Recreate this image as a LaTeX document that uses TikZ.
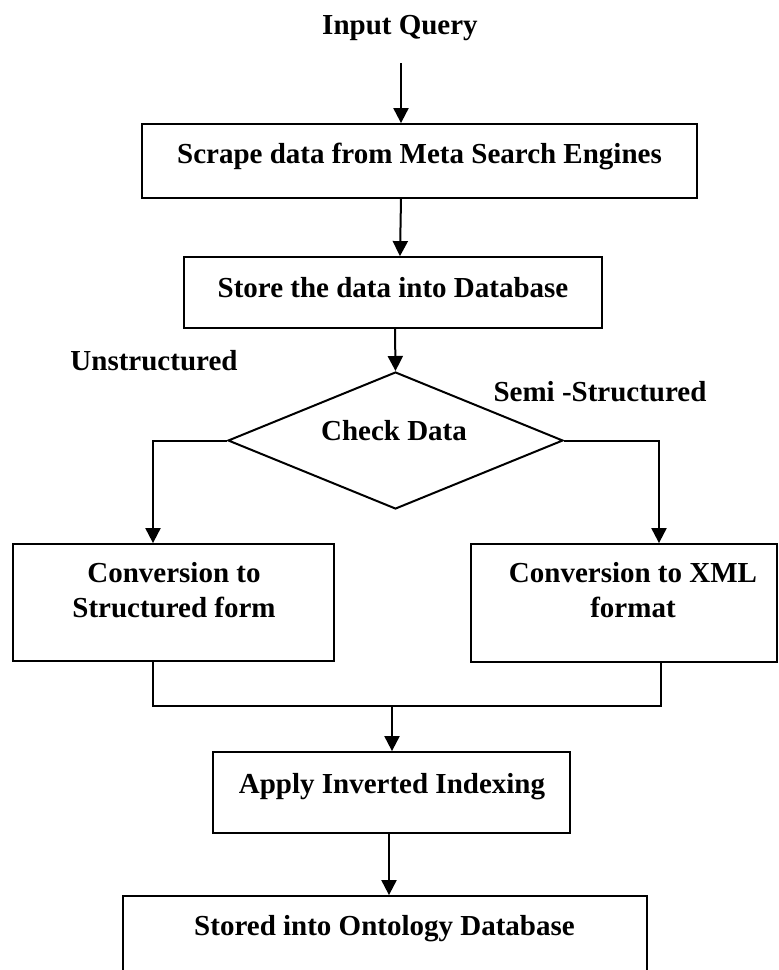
\documentclass[tikz,border=0pt]{standalone}
\usepackage{fontspec}
\setmainfont{Liberation Serif}
\usetikzlibrary{shapes.geometric,arrows.meta}
\begin{document}
\begin{tikzpicture}[x=1pt,y=-1pt,
  box/.style={draw, line width=1.8pt, inner sep=0pt},
  lbl/.style={font=\fontsize{29pt}{35pt}\selectfont\bfseries, inner sep=0pt, anchor=base},
  link/.style={line width=2pt},
  arr/.style={line width=2pt, -{Triangle[length=15pt,width=15pt]}}]
\useasboundingbox (0,0) rectangle (779,970);
\clip (0,0) rectangle (779,970);

% process steps
\node[lbl] (q) at (400,34) {Input Query};
\node[box, minimum width=555pt, minimum height=74pt] (b1) at (419.5,161) {};
\node[lbl] (t1) at (419.5,163) {Scrape data from Meta Search Engines};
\node[box, minimum width=418pt, minimum height=71pt] (b2) at (393,292.5) {};
\node[lbl] (t2) at (393,297) {Store the data into Database};

% decision
\node[draw, diamond, line width=2pt, inner sep=0pt,
      minimum width=335pt, minimum height=137pt] (d) at (395.5,440.5) {};
\node[lbl] (t3) at (394,440) {Check Data};
\node[lbl] (u) at (154,370) {Unstructured};
\node[lbl] (s) at (600,401) {Semi -Structured};

% conversion branches
\node[box, minimum width=321pt, minimum height=117pt] (lb) at (173.5,602.5) {};
\node[lbl] (lt1) at (174,582) {Conversion to};
\node[lbl] (lt2) at (174,617) {Structured form};
\node[box, minimum width=306pt, minimum height=118pt] (rb) at (624,603) {};
\node[lbl] (rt1) at (633,582) {Conversion to XML};
\node[lbl] (rt2) at (633,617) {format};

% indexing and storage
\node[box, minimum width=357pt, minimum height=81pt] (ab) at (391.5,792.5) {};
\node[lbl] (t4) at (392,793) {Apply Inverted Indexing};
\node[box, minimum width=524pt, minimum height=110pt] (bb) at (385,951) {};
\node[lbl] (t5) at (384.5,935) {Stored into Ontology Database};

% connectors
\coordinate (s1) at (401,63);
\draw[arr] (s1) -- (b1.north -| s1);
\draw[arr] ([xshift=-18.5pt]b1.south) -- ([xshift=7pt]b2.north);
\draw[arr] ([xshift=2pt]b2.south) -- (d.north);
\draw[arr] (d.west) -| ([xshift=-20.5pt]lb.north);
\draw[arr] (d.east) -| ([xshift=35pt]rb.north);
\coordinate (j) at (392,706);
\draw[link] ([xshift=-20.5pt]lb.south) |- (j);
\draw[link] ([xshift=37pt]rb.south) |- (j);
\draw[arr] (j) -- (ab.north -| j);
\draw[arr] ([xshift=-2.5pt]ab.south) -- ([xshift=4pt]bb.north);
\end{tikzpicture}
\end{document}
